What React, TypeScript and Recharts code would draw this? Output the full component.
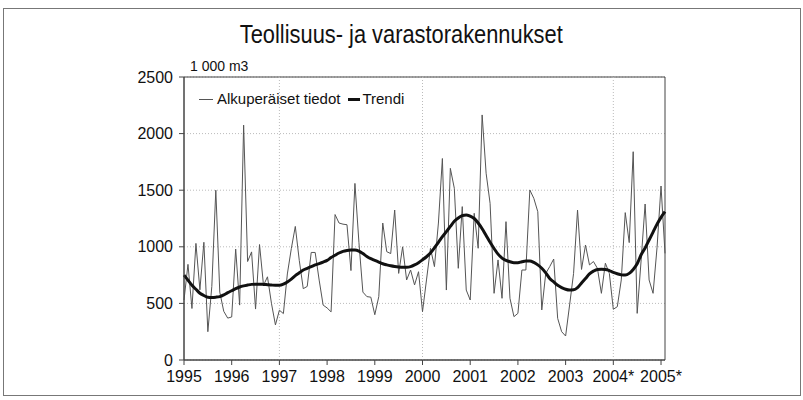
import {
  CartesianGrid,
  Line,
  LineChart,
  ReferenceArea,
  ReferenceLine,
  XAxis,
  YAxis,
} from "recharts";

// monthly values, Jan 1995 .. Feb 2005 (1 000 m3)
const RAW: number[] = [
  530, 845, 455, 1030, 620, 1040, 250, 650, 1500, 600, 430, 370,
  380, 980, 485, 2075, 870, 955, 450, 1020, 660, 735, 500, 310,
  440, 410, 760, 985, 1180, 880, 630, 650, 950, 950, 706, 485,
  460, 425, 1285, 1210, 1200, 1195, 790, 1560, 1040, 600, 560, 555,
  400, 560, 1210, 957, 940, 1325, 765, 1000, 707, 795, 663, 780,
  427, 707, 987, 825, 1210, 1780, 618, 1693, 1517, 810, 1355, 618,
  530, 1296, 987, 2165, 1650, 1384, 589, 884, 545, 1222, 545, 383,
  412, 795, 795, 1502, 1428, 1310, 442, 765, 825, 892, 368, 250,
  212, 486, 765, 1325, 800, 1016, 840, 870, 810, 589, 855, 765,
  448, 471, 707, 1302, 1037, 1840, 412, 884, 1378, 707, 589, 995,
  1537, 942,
];

const TREND: number[] = [
  750, 705, 660, 625, 590, 570, 555, 553, 555, 560, 575, 595,
  612, 630, 645, 655, 662, 668, 670, 670, 668, 665, 662, 660,
  660, 670, 690, 715, 745, 770, 795, 810, 825, 840, 852, 865,
  880, 905, 925, 945, 960, 968, 972, 972, 962, 940, 915, 895,
  880, 865, 850, 840, 832, 826, 822, 820, 820, 825, 840, 860,
  885, 912, 945, 990, 1040, 1090, 1134, 1180, 1225, 1255, 1275, 1282,
  1270, 1250, 1210, 1160, 1100, 1040, 985, 935, 900, 880, 868, 860,
  860, 868, 875, 875, 862, 840, 810, 770, 720, 690, 660, 640,
  625, 618, 620, 640, 680, 720, 760, 785, 800, 802, 800, 790,
  775, 762, 752, 750, 765, 800, 850, 930, 990, 1060, 1130, 1200,
  1260, 1310,
];

const YEAR_LABELS = [
  "1995", "1996", "1997", "1998", "1999", "2000",
  "2001", "2002", "2003", "2004*", "2005*",
];
const Y_TICKS = [0, 500, 1000, 1500, 2000, 2500];
const GRID_YEARS = [1997, 2000, 2004];

const FONT = "'Liberation Sans', Arial, sans-serif";

const data = RAW.map((v, i) => ({ m: i, raw: v, trend: TREND[i] }));
const yearTicks = YEAR_LABELS.map((_, i) => i * 12);
const lastMonth = RAW.length - 1;

export default function App() {
  return (
    <div
      style={{
        position: "absolute",
        left: 0,
        top: 0,
        width: 803,
        height: 400,
        background: "#fff",
        fontFamily: FONT,
        color: "#111",
      }}
    >
      {/* outer frame */}
      <div
        style={{
          position: "absolute",
          left: 3,
          top: 8,
          width: 796,
          height: 386,
          border: "1px solid #777",
        }}
      />
      {/* title is a condensed face in the original */}
      <div
        style={{
          position: "absolute",
          top: 21,
          left: 0,
          width: 803,
          textAlign: "center",
          fontSize: 26,
          lineHeight: "26px",
          transform: "scaleX(0.84)",
          transformOrigin: "400px 0",
        }}
      >
        Teollisuus- ja varastorakennukset
      </div>
      <div style={{ position: "absolute", left: 190, top: 59, fontSize: 14, lineHeight: "14px" }}>
        1 000 m3
      </div>

      <LineChart
        width={803}
        height={400}
        data={data}
        margin={{ top: 77, right: 138, bottom: 0, left: 0 }}
        style={{ position: "absolute", left: 0, top: 0 }}
      >
        <CartesianGrid vertical={false} stroke="#bbb" strokeDasharray="1 2" />
        {GRID_YEARS.map((y) => (
          <ReferenceLine
            key={y}
            x={(y - 1995) * 12}
            stroke="#bbb"
            strokeDasharray="1 2"
          />
        ))}
        <XAxis
          dataKey="m"
          type="number"
          domain={[0, lastMonth]}
          ticks={yearTicks}
          interval={0}
          tickFormatter={(v: number) => YEAR_LABELS[Math.round(v / 12)]}
          tick={{ fontSize: 16, fill: "#111", fontFamily: FONT }}
          tickSize={5}
          tickMargin={6}
          height={40}
          axisLine={{ stroke: "#444" }}
          tickLine={{ stroke: "#444" }}
        />
        <YAxis
          domain={[0, 2500]}
          ticks={Y_TICKS}
          interval={0}
          width={184}
          tick={{ fontSize: 16, fill: "#111", fontFamily: FONT }}
          tickSize={5}
          tickMargin={6}
          axisLine={{ stroke: "#444" }}
          tickLine={{ stroke: "#444" }}
        />
        <Line
          type="linear"
          dataKey="raw"
          stroke="#555"
          strokeWidth={1}
          dot={false}
          isAnimationActive={false}
        />
        <Line
          type="monotone"
          dataKey="trend"
          stroke="#111"
          strokeWidth={3}
          dot={false}
          isAnimationActive={false}
        />
        <ReferenceArea
          x1={0}
          x2={lastMonth}
          y1={0}
          y2={2500}
          fill="none"
          stroke="#444"
          strokeWidth={1}
        />
      </LineChart>

      {/* legend */}
      <div
        style={{
          position: "absolute",
          left: 199,
          top: 90,
          display: "flex",
          alignItems: "center",
          fontSize: 15,
          lineHeight: "18px",
        }}
      >
        <span style={{ display: "inline-block", width: 14, height: 1, background: "#555", marginRight: 4 }} />
        Alkuperäiset tiedot
        <span style={{ display: "inline-block", width: 12, height: 3, background: "#111", marginLeft: 8, marginRight: 2 }} />
        Trendi
      </div>
    </div>
  );
}
